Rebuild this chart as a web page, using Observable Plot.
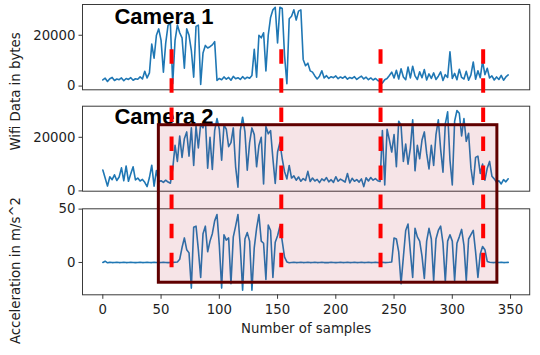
<!DOCTYPE html>
<html>
<head>
<meta charset="utf-8">
<script src="https://cdn.jsdelivr.net/npm/d3@7"></script>
<script src="https://cdn.jsdelivr.net/npm/@observablehq/plot@0.6"></script>
<style>
  html, body { margin: 0; padding: 0; background: #fff; }
  #chart { position: relative; width: 540px; height: 355px; background: #fff; font-family: "DejaVu Sans", sans-serif; overflow: hidden; }
</style>
</head>
<body>
<div id="chart"></div>
<script>
// ---- data (one value every `sampleStep` samples) ----
const sampleStep = 2;

const camera1Bytes = [
  2400, 3100, 1800, 2900, 3400, 2200, 2800, 2500, 3200, 2100,
  3000, 2600, 3300, 2300, 2900, 2700, 3600, 2800, 5800, 3200,
  5200, 16500, 11000, 20000, 22500, 18000, 5500, 17000, 24000, 24500,
  900, 18000, 24000, 21000, 19000, 7000, 22500, 20000, 14000, 3500,
  23500, 24000, 600, 13000, 16000, 15000, 15500, 16200, 17500, 2200,
  3000, 2500, 3600, 2700, 3400, 2300, 3800, 2900, 3300, 2600,
  3700, 2800, 3500, 3100, 4200, 14500, 3500, 20000, 19000, 21000,
  6000, 20000, 27000, 30000, 31000, 17000, 31000, 30500, 12000, 900,
  26500, 27500, 30000, 26000, 29500, 30000, 10500, 8000, 9000, 6000,
  5500, 4000, 2800, 3900, 6000, 3200, 4100, 3000, 3700, 3300,
  4000, 2900, 3600, 3100, 3800, 2700, 3400, 3000, 3700, 2600,
  3300, 3900, 2800, 3500, 2500, 3200, 2400, 3000, 2200, 1800,
  1200, 2500, 3000, 4200, 5500, 3200, 6200, 2800, 6800, 3600,
  2500, 7500, 3200, 7800, 4000, 2600, 5600, 3300, 6500, 2400,
  4800, 3000, 5200, 2600, 3900, 5600, 2200, 4500, 3400, 13500,
  3000, 5000, 2500, 6600, 3400, 2800, 5800, 2300, 4400, 9500,
  2700, 6000, 3300, 9800, 4500, 7000, 3200, 4000, 2400, 3600,
  2600, 4200, 2300, 3600, 4400
];

const camera2Bytes = [
  7800, 4800, 1800, 5300, 4200, 6000, 3900, 5200, 8600, 3800,
  9300, 3600, 6400, 9000, 4100, 4800, 3700, 4300, 3200, 1600,
  5000, 9600, 1800, 7600, 3400, 3800, 3200, 4000, 3300, 2900,
  8200, 17000, 11000, 20500, 12500, 19500, 22000, 13000, 23500, 9500,
  24200, 16000, 25000, 23500, 27000, 8500, 20000, 8000, 22500, 27000,
  23000, 11500, 24500, 23000, 16500, 18000, 23500, 9000, 1400, 22500,
  27500, 22000, 7700, 18000, 23500, 21000, 9000, 17000, 20000, 2600,
  24000, 21300, 22500, 12000, 2800, 14500, 18000, 12000, 7200, 4500,
  9500, 4800, 5600, 4000, 5200, 3600, 4600, 3900, 7300, 3500,
  4800, 3700, 4300, 3100, 4500, 3800, 5000, 3400, 4200, 3200,
  5300, 3600, 4400, 3900, 3300, 6500, 3000, 4700, 3600, 4200,
  3300, 4500, 1600, 4900, 3700, 5000, 4000, 4600, 3800, 3500,
  22500, 2200, 23000, 19000, 14500, 21000, 9000, 26000, 24500, 11000,
  17500, 10000, 16000, 26500, 7500, 17000, 12000, 19000, 22000, 14000,
  8200, 17000, 9500, 21000, 26500, 15500, 7000, 25000, 29500, 11500,
  2200, 26000, 30000, 29000, 20500, 27000, 18500, 21500, 8500, 2400,
  12500, 13000, 6500, 10000, 4000, 8500, 11000, 5500, 4500, 3200,
  3800, 2600, 4200, 3400, 4500
];

const acceleration = [
  0, 1.2, -0.3, 0.1, -0.1, 0, 0.1, -0.1, 0, 0.1,
  -0.1, 0, 0.1, 0, -0.1, 0, 0.1, -0.1, 0, 0.1,
  0, -0.1, 0.1, 0, -0.1, 0, 0.1, 0, -0.1, 0,
  0.1, 0.2, 0.5, 3, 14, 23, 12, 9, -24, 33,
  34, 12, -14, 27, 34, 10, 20, 27, 39, 45,
  16, -24, 26, 21, 23, -20, 24, 34, 45, 15,
  -26, 22, 28, 20, -26, 14, 32, 45, 20, 18,
  -16, 35, 30, -14, 19, 25, 34, 20, 5, 0.5,
  -0.2, 0, 0.1, -0.1, 0, 0.1, -0.1, 0, 0.1, -0.1,
  0, 0.1, -0.1, 0, 0.1, -0.1, 0, -0.1, 0.1, 0,
  -0.1, 0, 0.1, -0.1, 0, 0.1, -0.1, 0, 0.1, -0.1,
  0, 0.1, -0.1, 0, 0.1, -0.1, 0, 0.1, -0.1, 0,
  0.1, -0.1, 0, 0.2, 0.5, 23, 22, 10, -20, 5,
  30, 36, 10, -14, 32, 24, 20, 6, -15, 20,
  32, 22, -17, 22, 30, 34, 18, -18, 20, 26,
  20, -17, 18, 24, 31, 16, -17, 22, 26, 30,
  10, -14, 8, 15, 12, 1, 0.2, 0, -0.1, 0.1,
  0, 0.1, -0.1, 0, 0.1
];

const xTicks = [0, 50, 100, 150, 200, 250, 300, 350];
const bytesTicks = [0, 20000];
const accelTicks = [0, 50];
const panelTitles = ["Camera 1", "Camera 2"];
const titlePos = [{x: 10, y: 24250}, {x: 10, y: 24800}];
const yLabels = ["Wifi Data in bytes", "Acceleration in m/s^2"];
const xLabel = "Number of samples";

// annotations: event markers (sample index) and highlighted region
const eventSamples = [59, 153.2, 238.4, 326.5];
const eventFigY = [0.2473, 0.8611];        // figure fraction (0 = bottom, 1 = top)
const boxSamples = [48.1, 338.7];
const boxFigY = [0.205, 0.6487];
const yLabelFigY = [0.7437, 0.2394];

// ---- layout / style ----
const W = 540;
const xDomain = [-17.45, 366.45];
const mL = 82, mR = 10.8;
const font = "DejaVu Sans";
const lineColor = "#1f77b4";
const axisColor = "#3a3a3a";
const textColor = "#1e1e1e";

const toRows = vals => vals.map((v, i) => ({s: i * sampleStep, v}));

function panel({data, yDomain, ticks, top, height, mT, mB, title, tpos, xAxis}) {
  const marks = [
    Plot.line(data, {x: "s", y: "v", stroke: lineColor, strokeWidth: 1.6, clip: true}),
    Plot.frame({stroke: axisColor, strokeWidth: 1}),
    Plot.axisY(ticks, {tickFormat: d => String(d), tickSize: 3.5, tickPadding: 3.5,
      fontSize: 13.3, fontFamily: font, fill: textColor, stroke: axisColor, label: null})
  ];
  if (title) {
    marks.push(Plot.text([title], {x: () => tpos.x, y: () => tpos.y, text: d => d,
      textAnchor: "start", lineAnchor: "bottom", fontSize: 22, fontWeight: "bold",
      fontFamily: "Liberation Sans, Arial, sans-serif", fill: "#000"}));
  }
  if (xAxis) {
    marks.push(Plot.axisX(xTicks, {tickSize: 4.5, tickPadding: 5, fontSize: 13.3,
      fontFamily: font, fill: textColor, stroke: axisColor, label: null}));
    marks.push(Plot.text([xLabel], {frameAnchor: "bottom", text: d => d, dy: 34.3,
      lineAnchor: "middle", fontSize: 13.3, fontFamily: font, fill: textColor}));
  }
  return Plot.plot({
    width: W, height,
    marginLeft: mL, marginRight: mR, marginTop: mT, marginBottom: mB,
    x: {domain: xDomain, axis: null},
    y: {domain: yDomain, axis: null},
    style: {position: "absolute", left: "0px", top: top + "px", fontFamily: font,
      background: "transparent", overflow: "visible"},
    marks
  });
}

const chart = document.getElementById("chart");
chart.append(panel({data: toRows(camera1Bytes), yDomain: [-1460, 32100], ticks: bytesTicks,
  top: 0, height: 95, mT: 4, mB: 5.7, title: panelTitles[0], tpos: titlePos[0]}));
chart.append(panel({data: toRows(camera2Bytes), yDomain: [-100, 31600], ticks: bytesTicks,
  top: 100, height: 95, mT: 5.7, mB: 4.3, title: panelTitles[1], tpos: titlePos[1]}));
chart.append(panel({data: toRows(acceleration), yDomain: [-30.3, 50.3], ticks: accelTicks,
  top: 200, height: 155, mT: 8.3, mB: 60.7, xAxis: true}));

// overlay spanning the whole figure (shared x scale, y in figure fraction)
const box = [{x1: boxSamples[0], x2: boxSamples[1], y1: boxFigY[0], y2: boxFigY[1]}];
const overlay = Plot.plot({
  width: W, height: 355,
  marginLeft: mL, marginRight: mR, marginTop: 0, marginBottom: 0,
  x: {domain: xDomain, axis: null},
  y: {domain: [0, 1], axis: null},
  style: {position: "absolute", left: "0px", top: "0px", fontFamily: font,
    background: "transparent", overflow: "visible"},
  marks: [
    Plot.rect(box, {x1: "x1", x2: "x2", y1: "y1", y2: "y2",
      fill: "rgb(180,30,60)", fillOpacity: 0.12, stroke: "#600000", strokeWidth: 3}),
    Plot.ruleX(eventSamples, {y1: eventFigY[0], y2: eventFigY[1], stroke: "#ff0000",
      strokeWidth: 4, strokeDasharray: "14.5,14.56"}),
    Plot.text(yLabels, {frameAnchor: "left", y: yLabelFigY, text: d => d, dx: -67,
      rotate: -90, textAnchor: "middle", lineAnchor: "middle", fontSize: 13.3,
      fontFamily: font, fill: textColor})
  ]
});
chart.append(overlay);
</script>
</body>
</html>
